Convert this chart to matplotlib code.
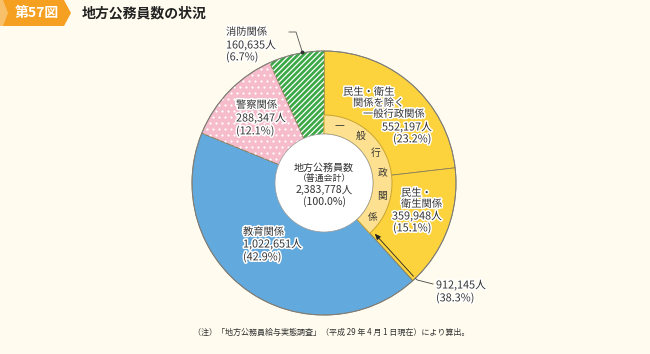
import numpy as np
import matplotlib
matplotlib.use("Agg")
import matplotlib.pyplot as plt
from matplotlib.patches import Circle, Polygon
import matplotlib.patheffects as pe

plt.rcParams['font.family'] = ['Noto Sans CJK JP', 'DejaVu Sans']
plt.rcParams['hatch.linewidth'] = 0.9

# ---- data ----
categories = ['民生・衛生関係を除く一般行政関係', '民生・衛生関係', '教育関係', '警察関係', '消防関係']
values = [552197, 359948, 1022651, 288347, 160635]
percents = [23.2, 15.1, 42.9, 12.1, 6.7]
total_value = 2383778
general_admin_value = 912145
general_admin_pct = 38.3
title = '地方公務員数の状況'
fig_no = '第57図'
note = '（注）「地方公務員給与実態調査」（平成 29 年 4 月 1 日現在）により算出。'
band_chars = ['一', '般', '行', '政', '関', '係']

colors = ['#fdd33d', '#fdd33d', '#62a9dd', '#f6bccb', '#3aa845']
band_color = '#fde190'
bg = '#fffcef'
txt = '#333333'

W, H = 650, 354
fig = plt.figure(figsize=(W / 100, H / 100), dpi=100, facecolor=bg)
ax = fig.add_axes([0, 0, 1, 1])

cx, cy = 324, 171
R = 132
r_band_out = 68
r_band_in = 49

halo = [pe.withStroke(linewidth=2.2, foreground='white')]

wedges, _ = ax.pie(values, colors=colors, startangle=90, counterclock=False,
                   radius=R, center=(cx, cy), frame=True,
                   wedgeprops=dict(edgecolor='#8a7f5a', linewidth=0.6))
for w in wedges:
    w.set_zorder(1)

# hatch stripes on green (fire) wedge
hs = ax.pie([values[4], total_value - values[4]], colors=['none', 'none'],
            startangle=90 - 360 * (sum(values[:4]) / total_value), counterclock=False,
            radius=R, center=(cx, cy), frame=True,
            wedgeprops=dict(linewidth=0))[0]
hs[0].set_hatch('//////')
hs[0].set_edgecolor('white')
hs[0].set_zorder(2)
hs[1].set_visible(False)

# dots on pink (police) wedge
wp = wedges[3]
xs, ys = [], []
step = 6.0
for j, yy in enumerate(np.arange(cy - R, cy + R, step)):
    off = (step / 2) if j % 2 else 0
    for xx in np.arange(cx - R + off, cx + R, step):
        xs.append(xx)
        ys.append(yy)
sc = ax.scatter(xs, ys, s=2.6, c='white', linewidths=0, zorder=2)
sc.set_clip_path(wp)

# outer ring outline
ax.add_patch(Circle((cx, cy), R, fill=False, edgecolor='#7d7d7d', linewidth=0.7, zorder=3))

# inner band: general administration total
band, _ = ax.pie([general_admin_value, total_value - general_admin_value],
                 colors=[band_color, 'none'], startangle=90, counterclock=False,
                 radius=r_band_out, center=(cx, cy), frame=True,
                 wedgeprops=dict(width=r_band_out - r_band_in, edgecolor='#c9a531', linewidth=0.7))
band[0].set_zorder(4)
band[1].set_visible(False)

ax.set_xlim(0, W)
ax.set_ylim(0, H)
ax.set_aspect('equal')
ax.axis('off')

# center white circle
ax.add_patch(Circle((cx, cy), r_band_in, facecolor='white', edgecolor='#9a9a9a', linewidth=0.5, zorder=5))

# band characters
r_mid = (r_band_out + r_band_in) / 2 + 1
angles = [75, 52, 30, 9, -13, -35]
for ch, a in zip(band_chars, angles):
    t = np.deg2rad(a)
    ax.text(cx + r_mid * np.cos(t), cy + r_mid * np.sin(t), ch, fontsize=7, color=txt,
            ha='center', va='center', zorder=6)

# center text
ax.text(cx, 186, '地方公務員数', fontsize=7.2, color=txt, ha='center', va='center', zorder=6)
ax.text(cx, 176, '（普通会計）', fontsize=6.4, color=txt, ha='center', va='center', zorder=6)
ax.text(cx, 164, f'{total_value:,}人', fontsize=7.6, color=txt, ha='center', va='center', zorder=6)
ax.text(cx, 152, '(100.0%)', fontsize=7.6, color=txt, ha='center', va='center', zorder=6)

def lab(x, y_img, s, ha='left', fs=7.4):
    ax.text(x, H - y_img, s, fontsize=fs, color=txt, ha=ha, va='center', zorder=7,
            path_effects=halo)

# general admin excluding welfare
lab(343, 92, '民生・衛生')
lab(353, 103, '関係を除く')
lab(363, 114, '一般行政関係')
lab(382, 127, f'{values[0]:,}人', fs=7.8)
lab(393, 139, f'({percents[0]}%)', fs=7.8)

# welfare
lab(401, 193, '民生・')
lab(401, 204, '衛生関係')
lab(392, 216, f'{values[1]:,}人', fs=7.8)
lab(393, 228, f'({percents[1]}%)', fs=7.8)

# education
lab(243, 232, '教育関係')
lab(243, 244, f'{values[2]:,}人', fs=7.8)
lab(243, 257, f'({percents[2]}%)', fs=7.8)

# police
lab(236, 105, '警察関係')
lab(236, 118, f'{values[3]:,}人', fs=7.8)
lab(236, 131, f'({percents[3]}%)', fs=7.8)

# fire
lab(226, 32, '消防関係')
lab(226, 45, f'{values[4]:,}人', fs=7.8)
lab(226, 57, f'({percents[4]}%)', fs=7.8)
ax.plot([289, 296, 302], [H - 32, H - 32, H - 51], color='#555555', lw=0.6, zorder=8)
ax.plot([302], [H - 52], marker='o', ms=1.8, color='#333333', zorder=8)

# general admin total leader along boundary
th = np.deg2rad(90 - 360 * general_admin_value / total_value)
nx, ny = np.cos(th + np.pi / 2) * 3.5, np.sin(th + np.pi / 2) * 3.5
p_out = (cx + R * np.cos(th) + nx, cy + R * np.sin(th) + ny)
p_in = (cx + (r_band_out + 1) * np.cos(th) + nx, cy + (r_band_out + 1) * np.sin(th) + ny)
ax.plot([433, p_out[0] + 2, p_out[0]], [H - 284, H - 280, p_out[1]], color='#444444', lw=0.6, zorder=8)
ax.annotate('', xy=p_in, xytext=p_out,
            arrowprops=dict(arrowstyle='-|>,head_length=0.35,head_width=0.15', color='#222222', lw=0.6),
            zorder=8)
lab(436, 285, f'{general_admin_value:,}人', fs=7.8)
lab(436, 298, f'({general_admin_pct}%)', fs=7.8)

# header tag
tag = Polygon([[0, H], [64, H], [71, H - 13], [64, H - 26], [0, H - 26]], closed=True,
              facecolor='#f5a020', edgecolor='none', zorder=9)
ax.add_patch(tag)
ax.add_patch(Polygon([[0, H], [3, H], [8, H - 13], [3, H - 26], [0, H - 26]], closed=True,
                     facecolor='#f9c06a', edgecolor='none', zorder=10))
ax.text(37, H - 13, fig_no, fontsize=10, color='white', fontweight='bold', ha='center', va='center', zorder=11)
ax.text(82, H - 13, title, fontsize=10, color='#222222', fontweight='bold', ha='left', va='center', zorder=11)

# note
ax.text(193, H - 332, note, fontsize=5.8, color=txt, ha='left', va='center', zorder=11)

fig.savefig('out.png', dpi=100, facecolor=bg)
